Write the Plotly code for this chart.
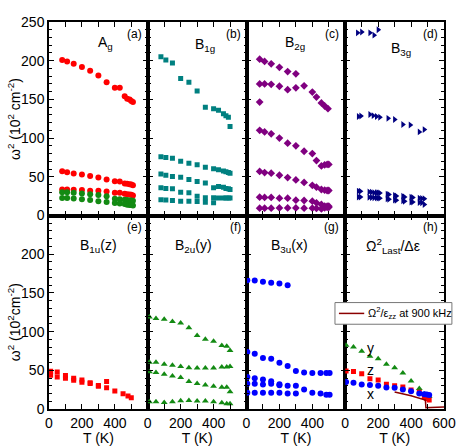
import plotly.graph_objects as go
from plotly.subplots import make_subplots

# ---- (a) Ag ----
T_AG = [80, 110, 150, 200, 250, 300, 350, 400, 430, 460, 475, 490, 500, 510]
AG_R1 = [201, 199, 196, 192, 187, 181, 172, 165, 165, 154, 151, 150, 148, 146.5]
AG_R2 = [57.3, 56, 54.3, 53, 51, 49, 46.6, 44.4, 44, 41.5, 41, 40.5, 40, 39.2]
AG_R3 = [33.6, 33.6, 33.2, 32.8, 32, 32, 31, 29.5, 29.5, 28, 27.5, 27, 26.8, 26]
AG_G1 = [30.2, 30, 29.5, 28.5, 27.5, 26.5, 25, 21.5, 21, 20.5, 20, 19.5, 19.5, 19]
AG_G2 = [22.5, 22.5, 22, 21, 20, 18.5, 17.5, 16, 15.5, 15, 14, 13.5, 13.5, 13]

# ---- (b) B1g ----
T_B1G = [80, 110, 150, 200, 250, 300, 350, 400, 430, 460, 475, 490, 500]
B1G_1 = [205, 201, 197, 177, 172, 161, 140, 138, 136, 131.5, 129, 127, 115]
B1G_2 = [76, 75, 74, 70, 67.5, 65.5, 62.5, 60.5, 59, 57.5, 56.5, 55.5, 54.5]
B1G_3 = [53.5, 52, 50.5, 49.5, 46.5, 44, 42, 36, 37.5, 36.5, 35, 34.5, 33.5]
B1G_4 = [36, 35, 34.5, 30, 29.5, 25, 23, 23, 22.5, 22.5, 22.5, 22.5, 22.5]
T_B1G_5 = [80, 110, 150, 200, 250, 300, 350, 400]
B1G_5 = [20.5, 20, 19.5, 18.5, 18.5, 18, 17, 16.5]

# ---- (c) B2g ----
T_B2G = [80, 110, 150, 200, 250, 300, 350, 400, 425, 455, 475, 490, 500]
T_B2G_1 = [80, 110, 150, 200, 250, 300]
B2G_1 = [202, 199, 196, 191.5, 186, 183]
T_B2G_2 = [80, 110, 150, 200, 250, 300, 350, 400, 425, 455, 475, 495]
B2G_2 = [170, 170, 169.5, 167, 162.5, 165, 167.5, 159.5, 153, 145.5, 141.5, 138]
T_B2G_ISO = [80]
B2G_ISO = [146.5]
B2G_3 = [110, 108, 105.5, 100, 93.5, 90, 83, 80, 71, 64, 65.5, 66, 66]
B2G_4 = [57, 55.5, 54.7, 52, 49, 46, 42.7, 39, 36.6, 33.6, 32.7, 32.3, 32.3]
B2G_5 = [23.7, 23.3, 23.3, 22.4, 22.4, 19.8, 19.4, 18.5, 16.4, 14.2, 12, 12, 12]
B2G_6 = [9.5, 9.5, 9.5, 9.8, 9.8, 9.8, 9.5, 9.5, 9.2, 8.5, 10, 10.5, 10.5]

# ---- (d) B3g ----
T_B3G_1 = [75, 100, 150, 175, 200]
B3G_1 = [236, 237, 236, 233, 240]
T_B3G_2 = [80, 95, 150, 170, 190, 210, 260, 300, 350, 395, 450, 480]
B3G_2 = [128, 128.5, 130.5, 129, 128, 127, 125.5, 124, 117.5, 117, 108, 111]
T_B3G_3 = [80, 92, 145, 160, 175, 190, 200, 210, 255, 265, 300, 310, 350, 360, 400, 410, 450, 465, 480]
B3G_3 = [31.5, 31.4, 30.5, 30.2, 29.5, 29.3, 29.3, 29, 27.5, 27.2, 26, 25.2, 25, 24, 23.7, 23.2, 22.4, 22, 21.6]
B3G_4 = [24, 23.8, 23.5, 23.3, 23, 22.8, 22.5, 22.4, 21.5, 21, 20, 19.8, 19, 18.5, 17.5, 17.3, 16.8, 16.5, 14.2]

# ---- (e) B1u(z) ----
T_B1U_1 = [10, 50, 100, 150, 200, 250, 300, 350]
B1U_1 = [48.7, 47.9, 43.2, 39.7, 37.6, 33.8, 29.5, 35.5]
T_B1U_2 = [10, 50, 100, 150, 200, 250, 300, 350, 400, 450, 480, 500]
B1U_2 = [43.6, 41.5, 39.7, 37.2, 34.6, 32.9, 30.3, 27.4, 23.1, 19.7, 16.7, 14.5]

# ---- (f) B2u(y) ----
T_B2U = [10, 50, 100, 150, 200, 250, 300, 350, 400, 450, 480, 500]
B2U_1 = [119, 117, 116, 113, 111, 105, 95, 90, 87.5, 82, 81, 75.5]
B2U_2 = [60.5, 60.5, 57.7, 56.4, 55, 53.4, 53, 53, 53, 54.3, 54.3, 55]
B2U_3 = [48, 47, 45, 42.7, 40.6, 35.5, 33, 31, 29.5, 28, 28, 22.2]
B2U_4 = [9.4, 9.4, 8.5, 9.4, 10.7, 11.1, 10.3, 10.3, 9.4, 8.1, 6.8, 6.8]

# ---- (g) B3u(x) ----
T_B3U_1 = [5, 50, 100, 150, 200, 250]
B3U_1 = [166.5, 166, 164.5, 163, 162, 160]
T_B3U = [5, 50, 100, 150, 200, 250, 300, 350, 400, 450, 485, 505]
B3U_2 = [73.5, 71.4, 65.8, 65, 59.8, 55.6, 49.2, 47, 46.6, 46.6, 46.6, 46.6]
B3U_3 = [32.5, 32.5, 31.6, 32.5, 30.8, 29.9, 29.9, 25.2, 20.9, 20.1, 18.4, 18.4]
T_B3U_4 = [5, 50, 100, 150, 200]
B3U_4 = [41.5, 39.7, 38, 36, 32]
T_B3U_5 = [5, 50, 100, 150, 200, 250, 300]
B3U_5 = [21, 21, 21, 21, 21, 20, 20]

# ---- (h) Omega^2_Last / delta eps ----
T_H = [5, 50, 100, 150, 200, 250, 300, 350, 400, 450, 480, 495, 510]
H_Y = [82.5, 80, 74.5, 68, 65, 57.7, 53.4, 46.5, 36.3, 26.5, 19.5, 17.5, 16]
H_Z = [49, 48.5, 45.5, 39, 37.5, 32, 30, 28.5, 24.5, 21.5, 16, 13.5, 11.5]
H_X = [35, 34, 31.6, 31, 30, 27.8, 27.4, 25.2, 23, 20, 19, 18.8, 18]
T_LINE = [300, 400, 487, 490, 520, 600]
EPS_LINE = [22, 17, 11.5, 1.5, 1.8, 2.5]

RED = "#FF0000"
GREEN = "#138A13"
TEAL = "#008080"
PURPLE = "#800080"
NAVY = "#000080"
BLUE = "#0000FF"
MAROON = "#8B0000"
FONT = "Liberation Sans, Arial, sans-serif"

fig = make_subplots(rows=2, cols=4, horizontal_spacing=0, vertical_spacing=0)


def pts(x, y, row, col, color, symbol, size=6):
    fig.add_trace(go.Scatter(
        x=x, y=y, mode="markers", showlegend=False,
        marker=dict(color=color, symbol=symbol, size=size, line=dict(width=0)),
    ), row=row, col=col)


for s in (AG_R1, AG_R2, AG_R3):
    pts(T_AG, s, 1, 1, RED, "circle")
for s in (AG_G1, AG_G2):
    pts(T_AG, s, 1, 1, GREEN, "circle")

for s in (B1G_1, B1G_2, B1G_3, B1G_4):
    pts(T_B1G, s, 1, 2, TEAL, "square", 5)
pts(T_B1G_5, B1G_5, 1, 2, TEAL, "square", 5)

pts(T_B2G_1, B2G_1, 1, 3, PURPLE, "diamond", 6)
pts(T_B2G_2, B2G_2, 1, 3, PURPLE, "diamond", 6)
pts(T_B2G_ISO, B2G_ISO, 1, 3, PURPLE, "diamond", 6)
for s in (B2G_3, B2G_4, B2G_5, B2G_6):
    pts(T_B2G, s, 1, 3, PURPLE, "diamond", 6)

pts(T_B3G_1, B3G_1, 1, 4, NAVY, "triangle-right", 6)
pts(T_B3G_2, B3G_2, 1, 4, NAVY, "triangle-right", 6)
pts(T_B3G_3, B3G_3, 1, 4, NAVY, "triangle-right", 6)
pts(T_B3G_3, B3G_4, 1, 4, NAVY, "triangle-right", 6)

pts(T_B1U_1, B1U_1, 2, 1, RED, "square", 5)
pts(T_B1U_2, B1U_2, 2, 1, RED, "square", 5)

for s in (B2U_1, B2U_2, B2U_3, B2U_4):
    pts(T_B2U, s, 2, 2, GREEN, "triangle-up", 6)

pts(T_B3U_1, B3U_1, 2, 3, BLUE, "circle")
pts(T_B3U, B3U_2, 2, 3, BLUE, "circle")
pts(T_B3U, B3U_3, 2, 3, BLUE, "circle")
pts(T_B3U_4, B3U_4, 2, 3, BLUE, "circle")
pts(T_B3U_5, B3U_5, 2, 3, BLUE, "circle")

pts(T_H, H_Y, 2, 4, GREEN, "triangle-up", 6)
pts(T_H, H_Z, 2, 4, RED, "square", 5)
pts(T_H, H_X, 2, 4, BLUE, "circle")
fig.add_trace(go.Scatter(
    x=T_LINE, y=EPS_LINE, mode="lines", showlegend=False,
    line=dict(color=MAROON, width=1.5),
), row=2, col=4)

axis_style = dict(
    showline=True, linecolor="black", linewidth=1.5, mirror="allticks",
    ticks="inside", ticklen=5, tickwidth=1.2, tickcolor="black",
    showgrid=False, zeroline=False, automargin=False,
    tickfont=dict(size=14, color="black", family=FONT),
)

for r in (1, 2):
    for c in (1, 2, 3, 4):
        if r == 2:
            text = ["0", "", "200", "", "400", "", "600" if c == 4 else ""]
        else:
            text = [""] * 7
        fig.update_xaxes(
            range=[0, 600], tickvals=[0, 100, 200, 300, 400, 500, 600],
            ticktext=text, showticklabels=(r == 2),
            title=dict(text="T (K)" if r == 2 else "", font=dict(size=14, family=FONT), standoff=2),
            row=r, col=c, **axis_style,
        )
        yvals = [0, 50, 100, 150, 200, 250] if r == 1 else [0, 50, 100, 150, 200]
        fig.update_yaxes(
            range=[0, 250], tickvals=yvals, showticklabels=(c == 1),
            minor=dict(dtick=10, ticks="inside", ticklen=3, tickcolor="black", tickwidth=1),
            row=r, col=c, **axis_style,
        )

anns = []
letters = ["(a)", "(b)", "(c)", "(d)", "(e)", "(f)", "(g)", "(h)"]
titles = [
    ("A<sub>g</sub>", 0.57, 0.89),
    ("B<sub>1g</sub>", 0.58, 0.88),
    ("B<sub>2g</sub>", 0.49, 0.89),
    ("B<sub>3g</sub>", 0.56, 0.86),
    ("B<sub>1u</sub>(z)", 0.50, 0.84),
    ("B<sub>2u</sub>(y)", 0.46, 0.84),
    ("B<sub>3u</sub>(x)", 0.44, 0.84),
    ("Ω<sup>2</sup><sub>Last</sub>/Δε", 0.48, 0.84),
]
for i in range(8):
    ax = "" if i == 0 else str(i + 1)
    anns.append(dict(
        text=letters[i], xref=f"x{ax} domain", yref=f"y{ax} domain",
        x=0.96, y=0.985, xanchor="right", yanchor="top", showarrow=False,
        font=dict(size=12, color="black", family=FONT),
    ))
    t, tx, ty = titles[i]
    anns.append(dict(
        text=t, xref=f"x{ax} domain", yref=f"y{ax} domain",
        x=tx, y=ty, xanchor="center", yanchor="middle", showarrow=False,
        font=dict(size=14, color="black", family=FONT),
    ))

for lbl, ly in (("y", 79), ("z", 50), ("x", 19)):
    anns.append(dict(text=lbl, xref="x8", yref="y8", x=155, y=ly, showarrow=False,
                     font=dict(size=14, color="black", family=FONT)))

anns.append(dict(text="ω<sup>2</sup> (10<sup>2</sup> cm<sup>-2</sup>)", xref="paper", yref="paper",
                 x=-0.088, y=0.75, xanchor="center", yanchor="middle", textangle=-90,
                 showarrow=False, font=dict(size=14, color="black", family=FONT)))
anns.append(dict(text="ω<sup>2</sup> (10<sup>2</sup>cm<sup>-2</sup>)", xref="paper", yref="paper",
                 x=-0.088, y=0.225, xanchor="center", yanchor="middle", textangle=-90,
                 showarrow=False, font=dict(size=14, color="black", family=FONT)))

# hand-drawn legend box for the dielectric curve
LEG_X0, LEG_X1, LEG_Y0, LEG_Y1 = 0.724, 1.02, 0.219, 0.275
LEG_YM = (LEG_Y0 + LEG_Y1) / 2
shapes = [
    dict(type="rect", xref="paper", yref="paper", x0=LEG_X0, x1=LEG_X1, y0=LEG_Y0, y1=LEG_Y1,
         line=dict(color="#777777", width=1), fillcolor="white", layer="above"),
    dict(type="line", xref="paper", yref="paper", x0=LEG_X0 + 0.01, x1=LEG_X0 + 0.074,
         y0=LEG_YM, y1=LEG_YM, line=dict(color=MAROON, width=1.5), layer="above"),
]
anns.append(dict(text="Ω<sup>2</sup>/ε<sub>zz</sub> at 900 kHz", xref="paper", yref="paper",
                 x=LEG_X0 + 0.078, y=LEG_YM, xanchor="left", yanchor="middle", showarrow=False,
                 font=dict(size=11, color="black", family=FONT)))

fig.update_layout(
    width=463, height=446,
    margin=dict(l=49, r=19, t=22, b=37),
    paper_bgcolor="white", plot_bgcolor="white",
    font=dict(family=FONT, color="black"),
    annotations=anns, shapes=shapes, showlegend=False,
)

fig.write_html(
    "out.html",
    config={"displayModeBar": False},
    post_script="document.body.style.margin='0';document.body.style.overflow='hidden';",
)
